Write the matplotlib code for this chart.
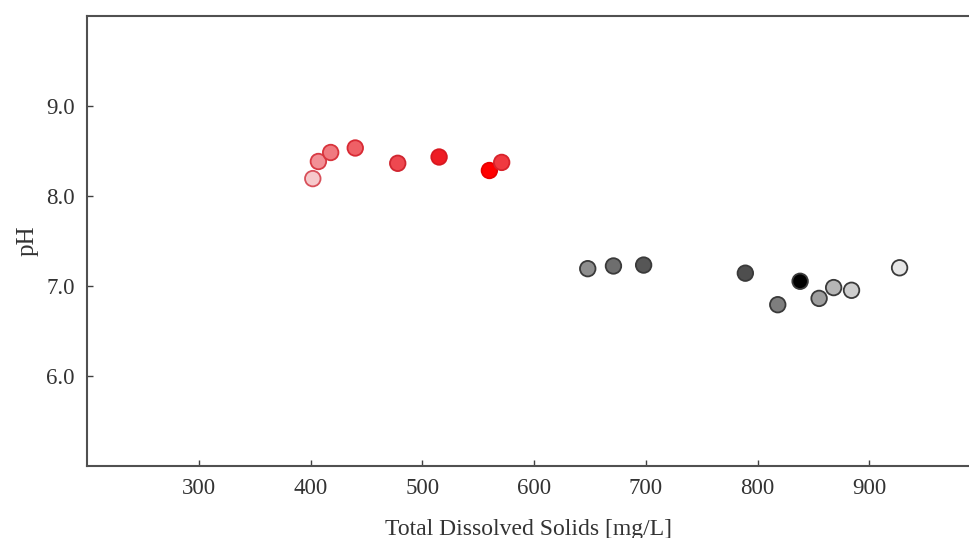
import matplotlib
matplotlib.use("Agg")
import matplotlib.pyplot as plt

plt.rcParams['font.family'] = ['Liberation Serif', 'DejaVu Serif']

# red group (low TDS, high pH)
red_tds = [402, 407, 418, 440, 478, 515, 560, 571]
red_ph = [8.19, 8.38, 8.48, 8.53, 8.36, 8.43, 8.28, 8.37]
red_face = ['#f6c9cb', '#f29096', '#f07a80', '#ef6066', '#ee4850', '#ee1c24', '#ff0000', '#f03a40']
red_edge = ['#d8505a', '#d83a44', '#d8343c', '#d82a34', '#d02630', '#d81820', '#e80000', '#d8242c']

# grey group (high TDS, near-neutral pH)
grey_tds = [648, 671, 698, 789, 838, 818, 855, 868, 884, 927]
grey_ph = [7.19, 7.22, 7.23, 7.14, 7.05, 6.79, 6.86, 6.98, 6.95, 7.20]
grey_face = ['#8e8e8e', '#6e6e6e', '#565656', '#4e4e4e', '#000000',
             '#7e7e7e', '#9e9e9e', '#b6b6b6', '#cecece', '#e6e6e6']

fig = plt.figure(figsize=(9.7, 5.38), dpi=100)
ax = fig.add_axes([0.0897, 0.134, 0.9103, 0.837])

ax.scatter(red_tds, red_ph, s=125, c=red_face, edgecolors=red_edge, linewidths=1.3, zorder=3)
ax.scatter(grey_tds, grey_ph, s=125, c=grey_face, edgecolors='#3a3a3a', linewidths=1.3, zorder=3)

ax.set_xlim(200, 990)
ax.set_ylim(5, 10)
ax.set_xticks([300, 400, 500, 600, 700, 800, 900])
ax.set_yticks([6, 7, 8, 9])
ax.set_yticklabels(['6.0', '7.0', '8.0', '9.0'])

ax.tick_params(direction='in', length=4, width=1, colors='#404040', labelsize=16.5,
               labelcolor='#333333', pad=9)
for side in ['left', 'bottom', 'top']:
    ax.spines[side].set_color('#505050')
    ax.spines[side].set_linewidth(1.5)
ax.spines['right'].set_visible(False)

ax.set_xlabel('Total Dissolved Solids [mg/L]', fontsize=17, color='#333333', labelpad=14)
ax.set_ylabel('pH', fontsize=18, color='#333333', labelpad=5)

fig.savefig('out.png', dpi=100)
